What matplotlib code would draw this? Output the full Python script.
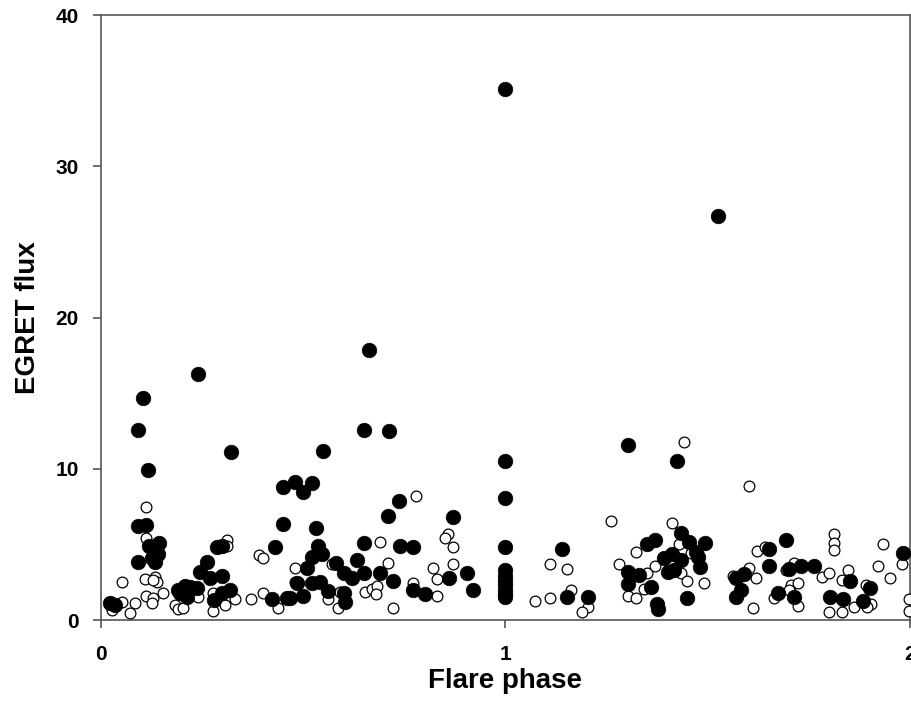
import matplotlib
matplotlib.use("Agg")
import matplotlib.pyplot as plt

# flare phase / EGRET flux, filled symbols
filled_phase = [0.022, 0.035, 0.092, 0.104, 0.116, 0.092, 0.111, 0.119, 0.144, 0.092,
                0.141, 0.134, 0.126, 0.19, 0.208, 0.22, 0.238, 0.213, 0.196, 0.24,
                0.262, 0.245, 0.27, 0.3, 0.287, 0.3, 0.28, 0.3, 0.32, 0.322,
                0.423, 0.431, 0.45, 0.45, 0.48, 0.50, 0.522, 0.46, 0.468, 0.485,
                0.5, 0.522, 0.542, 0.562, 0.6, 0.604, 0.621, 0.532, 0.537, 0.547,
                0.522, 0.51, 0.55, 0.651, 0.582, 0.634, 0.6, 0.651, 0.69, 0.722,
                0.651, 0.713, 0.663, 0.738, 0.71, 0.74, 0.772, 0.772, 0.8, 0.861,
                0.871, 0.906, 0.921, 1.0, 1.0, 1.0, 1.0, 1.0, 1.0, 1.0,
                1.0, 1.0, 1.0, 1.0, 1.141, 1.153, 1.203, 1.302, 1.423, 1.351,
                1.371, 1.433, 1.453, 1.493, 1.304, 1.329, 1.302, 1.361, 1.374, 1.376,
                1.391, 1.413, 1.433, 1.401, 1.416, 1.475, 1.48, 1.47, 1.45, 1.525,
                1.569, 1.589, 1.569, 1.582, 1.651, 1.693, 1.651, 1.7, 1.73, 1.762,
                1.673, 1.713, 1.802, 1.834, 1.851, 1.884, 1.901, 1.983]
filled_flux = [1.1, 1.0, 12.6, 14.7, 9.9, 6.2, 6.3, 4.9, 5.1, 3.85,
               4.4, 3.85, 4.1, 2.0, 2.25, 2.2, 2.1, 1.5, 1.8, 16.3,
               3.85, 3.2, 2.8, 2.9, 4.8, 4.9, 1.3, 1.8, 2.0, 11.1,
               1.4, 4.85, 6.35, 8.8, 9.1, 8.45, 9.05, 1.45, 1.45, 2.45,
               1.6, 2.45, 2.5, 1.9, 1.8, 1.2, 2.8, 6.1, 4.9, 4.4,
               4.2, 3.45, 11.2, 5.1, 3.75, 4.0, 3.1, 3.1, 3.1, 2.6,
               12.6, 12.5, 17.85, 7.9, 6.9, 4.9, 4.85, 2.0, 1.7, 2.8,
               6.8, 3.1, 2.0, 35.1, 10.5, 8.1, 4.8, 3.3, 2.9, 2.6,
               2.3, 2.0, 1.7, 1.5, 4.7, 1.5, 1.5, 11.6, 10.5, 5.0,
               5.3, 5.75, 5.15, 5.1, 3.15, 3.0, 2.4, 2.2, 1.05, 0.7,
               4.1, 4.35, 3.95, 3.2, 3.3, 4.15, 3.5, 4.5, 1.45, 26.7,
               2.8, 3.05, 1.5, 2.0, 4.7, 5.3, 3.55, 3.35, 3.55, 3.55,
               1.8, 1.5, 1.5, 1.4, 2.6, 1.25, 2.1, 4.45]

# open symbols
open_phase = [0.111, 0.111, 0.109, 0.052, 0.134, 0.139, 0.129, 0.111, 0.129, 0.126,
              0.153, 0.084, 0.052, 0.072, 0.027, 0.183, 0.191, 0.203, 0.312, 0.312,
              0.277, 0.277, 0.307, 0.332, 0.371, 0.401, 0.391, 0.401, 0.438, 0.48,
              0.48, 0.24, 0.78, 0.69, 0.71, 0.572, 0.859, 0.851, 0.871, 0.871,
              0.822, 0.832, 0.772, 0.832, 0.723, 0.653, 0.671, 0.683, 0.68, 0.562,
              0.587, 0.592, 1.0, 1.072, 1.111, 1.111, 1.151, 1.161, 1.203, 1.19,
              1.26, 1.322, 1.28, 1.302, 1.322, 1.342, 1.351, 1.371, 1.411, 1.441,
              1.428, 1.46, 1.433, 1.45, 1.49, 1.601, 1.623, 1.641, 1.601, 1.62,
              1.562, 1.611, 1.693, 1.713, 1.705, 1.723, 1.7, 1.663, 1.723, 1.812,
              1.812, 1.812, 1.782, 1.8, 1.832, 1.846, 1.8, 1.832, 1.861, 1.891,
              1.903, 1.894, 1.933, 1.921, 1.95, 1.98, 1.998, 1.998]
open_flux = [7.5, 5.4, 2.7, 2.5, 2.85, 2.5, 2.65, 1.6, 1.45, 1.1,
             1.8, 1.1, 1.2, 0.45, 0.65, 1.0, 0.75, 0.8, 5.3, 4.9,
             1.8, 0.6, 1.0, 1.4, 1.4, 1.8, 4.3, 4.1, 0.8, 3.45,
             2.5, 1.5, 8.2, 5.15, 3.75, 3.7, 5.7, 5.4, 4.85, 3.7,
             3.45, 2.7, 2.45, 1.6, 0.8, 1.85, 2.05, 2.25, 1.7, 1.4,
             0.8, 1.85, 3.1, 1.25, 1.45, 3.7, 3.35, 2.0, 0.85, 0.5,
             6.55, 4.5, 3.7, 1.6, 1.45, 2.05, 3.1, 3.55, 6.4, 11.8,
             5.0, 4.45, 3.1, 2.6, 2.45, 8.85, 4.55, 4.85, 3.45, 2.8,
             2.9, 0.8, 3.3, 3.75, 2.3, 2.45, 2.0, 1.45, 0.95, 5.7,
             5.1, 4.6, 2.85, 3.1, 2.65, 3.3, 0.55, 0.55, 0.85, 2.3,
             1.05, 0.85, 5.0, 3.55, 2.8, 3.7, 1.4, 0.6]

x_ticks = [0, 1, 2]
y_ticks = [0, 10, 20, 30, 40]

plt.rcParams['font.family'] = ['Liberation Sans', 'DejaVu Sans']
plt.rcParams['font.weight'] = 'bold'

fig = plt.figure(figsize=(9.12, 7.21), dpi=100)
ax = fig.add_axes([0.1107, 0.140, 0.887, 0.839])

ax.scatter(open_phase, open_flux, s=60, facecolors='white', edgecolors='black',
           linewidths=0.9, clip_on=False, zorder=3)
ax.scatter(filled_phase, filled_flux, s=110, facecolors='black', edgecolors='black',
           linewidths=0.5, clip_on=False, zorder=4)

ax.set_xlim(0, 2)
ax.set_ylim(0, 40)
ax.set_xticks(x_ticks)
ax.set_yticks(y_ticks)
ax.set_xticklabels([str(t) for t in x_ticks], fontsize=15, fontweight='bold')
ax.set_yticklabels([str(t) for t in y_ticks], fontsize=15, fontweight='bold')
ax.tick_params(axis='both', direction='out', length=6, width=1.2, color='#555555')
ax.tick_params(axis='x', pad=12)
ax.tick_params(axis='y', pad=10)

for sp in ax.spines.values():
    sp.set_color('#555555')
    sp.set_linewidth(1.2)

ax.set_xlabel('Flare phase', fontsize=20, fontweight='bold')
ax.set_ylabel('EGRET flux', fontsize=20, fontweight='bold')
ax.xaxis.set_label_coords(0.5, -0.101)
ax.yaxis.set_label_coords(-0.090, 0.5)
ax.xaxis.label.set_va('center')
ax.yaxis.label.set_va('center')

fig.savefig('out.png', dpi=100)
